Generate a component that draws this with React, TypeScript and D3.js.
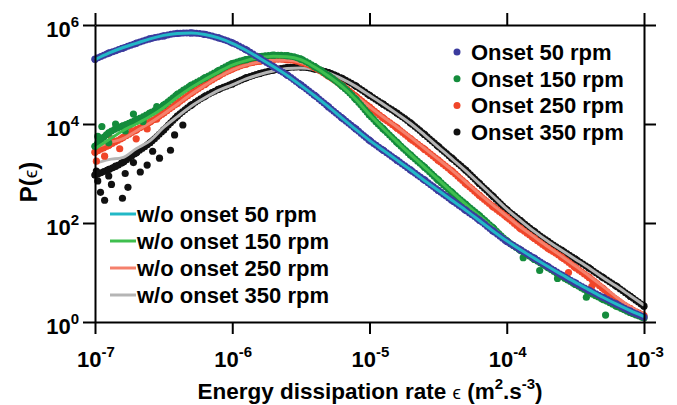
import React, { useRef, useEffect } from "react";
import * as d3 from "d3";

// log10 of the dissipation rate, one value per column of the data
const logEps = [
  -7.0, -6.9, -6.8, -6.7, -6.6, -6.5, -6.4, -6.3, -6.2, -6.1, -6.0, -5.9, -5.8, -5.7,
  -5.6, -5.5, -5.4, -5.3, -5.2, -5.1, -5.0, -4.9, -4.8, -4.7, -4.6, -4.5, -4.4, -4.3,
  -4.2, -4.1, -4.0, -3.9, -3.8, -3.7, -3.6, -3.5, -3.4, -3.3, -3.2, -3.1, -3.0,
];

// log10 P(eps)
const onset50 = [
  5.31, 5.43, 5.53, 5.63, 5.72, 5.78, 5.83, 5.84, 5.81, 5.74, 5.64, 5.5, 5.33, 5.16,
  4.99, 4.79, 4.58, 4.35, 4.12, 3.9, 3.67, 3.47, 3.27, 3.07, 2.87, 2.66, 2.46, 2.26,
  2.06, 1.84, 1.63, 1.46, 1.29, 1.12, 0.95, 0.79, 0.64, 0.5, 0.36, 0.22, 0.1,
];
const woOnset50 = [
  5.3, 5.43, 5.54, 5.63, 5.72, 5.79, 5.83, 5.84, 5.81, 5.74, 5.63, 5.49, 5.33, 5.16,
  4.98, 4.78, 4.57, 4.35, 4.12, 3.89, 3.67, 3.47, 3.27, 3.07, 2.86, 2.66, 2.46, 2.26,
  2.05, 1.84, 1.64, 1.46, 1.29, 1.12, 0.96, 0.8, 0.65, 0.5, 0.36, 0.23, 0.11,
];
const onset150 = [
  3.55, 3.82, 3.96, 4.08, 4.22, 4.38, 4.6, 4.78, 4.93, 5.08, 5.22, 5.3, 5.36, 5.39,
  5.38, 5.31, 5.16, 4.98, 4.77, 4.5, 4.18, 3.9, 3.63, 3.37, 3.13, 2.87, 2.62, 2.38,
  2.15, 1.9, 1.64, 1.45, 1.27, 1.1, 0.92, 0.76, 0.6, 0.46, 0.32, 0.19, 0.08,
];
const woOnset150 = [
  3.5, 3.68, 3.86, 4.0, 4.15, 4.33, 4.54, 4.73, 4.9, 5.05, 5.19, 5.28, 5.34, 5.37,
  5.36, 5.3, 5.15, 4.97, 4.76, 4.5, 4.19, 3.91, 3.64, 3.38, 3.13, 2.88, 2.63, 2.38,
  2.15, 1.91, 1.67, 1.47, 1.29, 1.11, 0.94, 0.78, 0.62, 0.47, 0.33, 0.2, 0.1,
];
const onset250 = [
  3.43, 3.57, 3.72, 3.88, 4.04, 4.22, 4.42, 4.62, 4.8, 4.97, 5.11, 5.21, 5.27, 5.31,
  5.3, 5.25, 5.14, 4.97, 4.78, 4.56, 4.34, 4.12, 3.92, 3.7, 3.49, 3.27, 3.05, 2.8,
  2.56, 2.33, 2.12, 1.89, 1.69, 1.49, 1.31, 1.1, 0.9, 0.68, 0.45, 0.27, 0.13,
];
const woOnset250 = [
  3.52, 3.62, 3.7, 3.86, 4.02, 4.2, 4.4, 4.6, 4.78, 4.95, 5.09, 5.19, 5.25, 5.29,
  5.29, 5.24, 5.13, 4.97, 4.78, 4.57, 4.35, 4.14, 3.94, 3.73, 3.51, 3.29, 3.07, 2.83,
  2.59, 2.36, 2.14, 1.92, 1.72, 1.52, 1.33, 1.13, 0.93, 0.72, 0.5, 0.31, 0.16,
];
const onset350 = [
  2.97, 3.08, 3.22, 3.42, 3.62, 3.88, 4.16, 4.38, 4.56, 4.7, 4.81, 4.93, 5.02, 5.09,
  5.14, 5.15, 5.11, 5.04, 4.92, 4.77, 4.58, 4.4, 4.22, 4.02, 3.79, 3.55, 3.31, 3.07,
  2.8, 2.54, 2.27, 2.05, 1.83, 1.63, 1.45, 1.27, 1.09, 0.9, 0.72, 0.52, 0.32,
];
const woOnset350 = [
  3.2, 3.28, 3.32, 3.5, 3.66, 3.93, 4.15, 4.36, 4.53, 4.68, 4.79, 4.91, 5.0, 5.07,
  5.12, 5.13, 5.1, 5.03, 4.91, 4.76, 4.58, 4.4, 4.21, 4.01, 3.78, 3.54, 3.3, 3.06,
  2.8, 2.54, 2.28, 2.05, 1.83, 1.63, 1.45, 1.27, 1.09, 0.9, 0.72, 0.53, 0.34,
];

// scattered points off the main trend: [log10 eps, log10 P]
const stray50: [number, number][] = [];
const stray150: [number, number][] = [
  [-6.98, 3.75], [-6.95, 3.95], [-6.9, 3.62], [-6.85, 4.0], [-6.78, 3.86], [-6.72, 4.2],
  [-6.65, 4.05], [-6.55, 4.35], [-3.88, 1.3], [-3.76, 1.04], [-3.63, 0.88], [-3.42, 0.5], [-3.28, 0.14],
];
const stray250: [number, number][] = [
  [-6.99, 3.25], [-6.97, 3.55], [-6.93, 3.35], [-6.88, 3.7], [-6.82, 3.5], [-6.75, 3.95],
  [-6.7, 3.7], [-6.62, 3.9], [-6.55, 4.1], [-3.55, 1.0], [-3.38, 0.72],
];
const stray350: [number, number][] = [
  [-6.99, 3.05], [-6.98, 2.85], [-6.96, 2.62], [-6.93, 2.46], [-6.9, 2.95], [-6.88, 2.78],
  [-6.85, 3.15], [-6.8, 2.5], [-6.78, 3.0], [-6.76, 2.72], [-6.72, 3.22], [-6.67, 3.03],
  [-6.62, 3.17], [-6.58, 3.45], [-6.53, 3.31], [-6.45, 3.47], [-6.42, 3.78], [-6.36, 3.98],
];

const xTickExp = [-7, -6, -5, -4, -3];
const yTickExp = [0, 2, 4, 6];
const speeds = ["50", "150", "250", "350"];

const onsetSeries = [onset50, onset150, onset250, onset350];
const woSeries = [woOnset50, woOnset150, woOnset250, woOnset350];
const straySeries = [stray50, stray150, stray250, stray350];
const dotColors = ["#3b3b9e", "#148c3c", "#f0462a", "#111111"];
const lineColors = ["#22b8c6", "#3fbf4e", "#f5806c", "#b5b5b5"];

const FONT = "'Liberation Sans', Arial, Helvetica, sans-serif";

export default function App() {
  const svgRef = useRef<SVGSVGElement>(null);

  useEffect(() => {
    if (!svgRef.current) return;
    const svg = d3.select(svgRef.current);
    svg.selectAll("*").remove();

    const width = 677;
    const height = 405;
    const left = 95, right = 644, top = 25, bottom = 322;

    svg.attr("width", width).attr("height", height).attr("viewBox", `0 0 ${width} ${height}`);
    svg.append("rect").attr("width", width).attr("height", height).attr("fill", "#fff");

    const x = d3.scaleLog().domain([1e-7, 1e-3]).range([left, right]);
    const y = d3.scaleLog().domain([1, 1e6]).range([bottom, top]);

    const line = d3
      .line<[number, number]>()
      .x((d) => x(10 ** d[0]))
      .y((d) => y(10 ** d[1]))
      .curve(d3.curveMonotoneX);

    const plot = svg.append("g");

    // draw 350 first so 50 rpm ends on top
    [3, 2, 1, 0].forEach((si) => {
      const pts = logEps.map((e, i) => [e, onsetSeries[si][i]] as [number, number]);
      const wo = logEps.map((e, i) => [e, woSeries[si][i]] as [number, number]);

      // beaded dots along the measured curve
      plot
        .append("path")
        .datum(pts)
        .attr("fill", "none")
        .attr("stroke", dotColors[si])
        .attr("stroke-width", 7)
        .attr("stroke-linecap", "round")
        .attr("stroke-dasharray", "0 3.2")
        .attr("d", line);

      plot
        .selectAll(`.dot-${si}`)
        .data(pts.concat(straySeries[si]))
        .enter()
        .append("circle")
        .attr("cx", (d) => x(10 ** d[0]))
        .attr("cy", (d) => y(10 ** d[1]))
        .attr("r", 3.6)
        .attr("fill", dotColors[si]);

      plot
        .append("path")
        .datum(wo)
        .attr("fill", "none")
        .attr("stroke", lineColors[si])
        .attr("stroke-width", 3)
        .attr("d", line);
    });

    // Frame: ticks point outwards on all four sides
    const axes = svg.append("g").attr("stroke-width", 2);
    const xTicks = xTickExp.map((e) => 10 ** e);
    const yTicks = yTickExp.map((e) => 10 ** e);
    axes.append("g").attr("transform", `translate(0,${bottom})`)
      .call(d3.axisBottom(x).tickValues(xTicks).tickSize(12).tickSizeOuter(0).tickFormat(() => ""));
    axes.append("g").attr("transform", `translate(0,${top})`)
      .call(d3.axisTop(x).tickValues(xTicks).tickSize(12).tickSizeOuter(0).tickFormat(() => ""));
    axes.append("g").attr("transform", `translate(${left},0)`)
      .call(d3.axisLeft(y).tickValues(yTicks).tickSize(12).tickSizeOuter(0).tickFormat(() => ""));
    axes.append("g").attr("transform", `translate(${right},0)`)
      .call(d3.axisRight(y).tickValues(yTicks).tickSize(12).tickSizeOuter(0).tickFormat(() => ""));
    axes.selectAll(".domain").attr("stroke", "#000").attr("stroke-width", 2);
    axes.selectAll(".tick line").attr("stroke", "#000").attr("stroke-width", 2);

    // X tick labels
    xTickExp.forEach((e) => {
      const t = svg.append("text")
        .attr("x", x(10 ** e) + 1)
        .attr("y", 367)
        .attr("text-anchor", "middle")
        .attr("font-family", FONT)
        .attr("font-weight", "bold")
        .attr("font-size", 22);
      t.append("tspan").text("10");
      t.append("tspan").attr("dy", -10).attr("font-size", 15).text(String(e));
    });

    // Y tick labels
    yTickExp.forEach((e) => {
      const t = svg.append("text")
        .attr("x", 79)
        .attr("y", y(10 ** e) + 12)
        .attr("text-anchor", "end")
        .attr("font-family", FONT)
        .attr("font-weight", "bold")
        .attr("font-size", 22);
      t.append("tspan").text("10");
      t.append("tspan").attr("dy", -10).attr("font-size", 15).text(String(e));
    });

    // Axis titles
    const xt = svg.append("text")
      .attr("x", 370)
      .attr("y", 399)
      .attr("text-anchor", "middle")
      .attr("font-family", FONT)
      .attr("font-weight", "bold")
      .attr("font-size", 22.5);
    xt.append("tspan").text("Energy dissipation rate ");
    xt.append("tspan").attr("font-weight", "normal").attr("font-size", 19).text("\u03F5");
    xt.append("tspan").text(" (m");
    xt.append("tspan").attr("dy", -10).attr("font-size", 15).text("2");
    xt.append("tspan").attr("dy", 10).text(".s");
    xt.append("tspan").attr("dy", -10).attr("font-size", 15).text("-3");
    xt.append("tspan").attr("dy", 10).text(")");

    const yt = svg.append("text")
      .attr("transform", `translate(37,182) rotate(-90)`)
      .attr("text-anchor", "middle")
      .attr("font-family", FONT)
      .attr("font-weight", "bold")
      .attr("font-size", 24);
    yt.append("tspan").text("P(");
    yt.append("tspan").attr("font-weight", "normal").attr("font-size", 19).text("\u03F5");
    yt.append("tspan").text(")");

    // Legend: onset (dots)
    speeds.forEach((s, i) => {
      const cy = 52 + i * 26.7;
      svg.append("circle").attr("cx", 457).attr("cy", cy).attr("r", 3.5).attr("fill", dotColors[i]);
      svg.append("text")
        .attr("x", 471)
        .attr("y", cy + 8)
        .attr("font-family", FONT)
        .attr("font-weight", "bold")
        .attr("font-size", 22)
        .text(`Onset ${s} rpm`);
    });

    // Legend: without onset (lines)
    speeds.forEach((s, i) => {
      const ly = 214 + i * 27;
      svg.append("line")
        .attr("x1", 110).attr("x2", 136)
        .attr("y1", ly).attr("y2", ly)
        .attr("stroke", lineColors[i])
        .attr("stroke-width", 3);
      svg.append("text")
        .attr("x", 137)
        .attr("y", ly + 8)
        .attr("font-family", FONT)
        .attr("font-weight", "bold")
        .attr("font-size", 22)
        .text(`w/o onset ${s} rpm`);
    });
  }, []);

  return (
    <svg ref={svgRef} style={{ position: "absolute", left: 0, top: 0, display: "block" }} />
  );
}
